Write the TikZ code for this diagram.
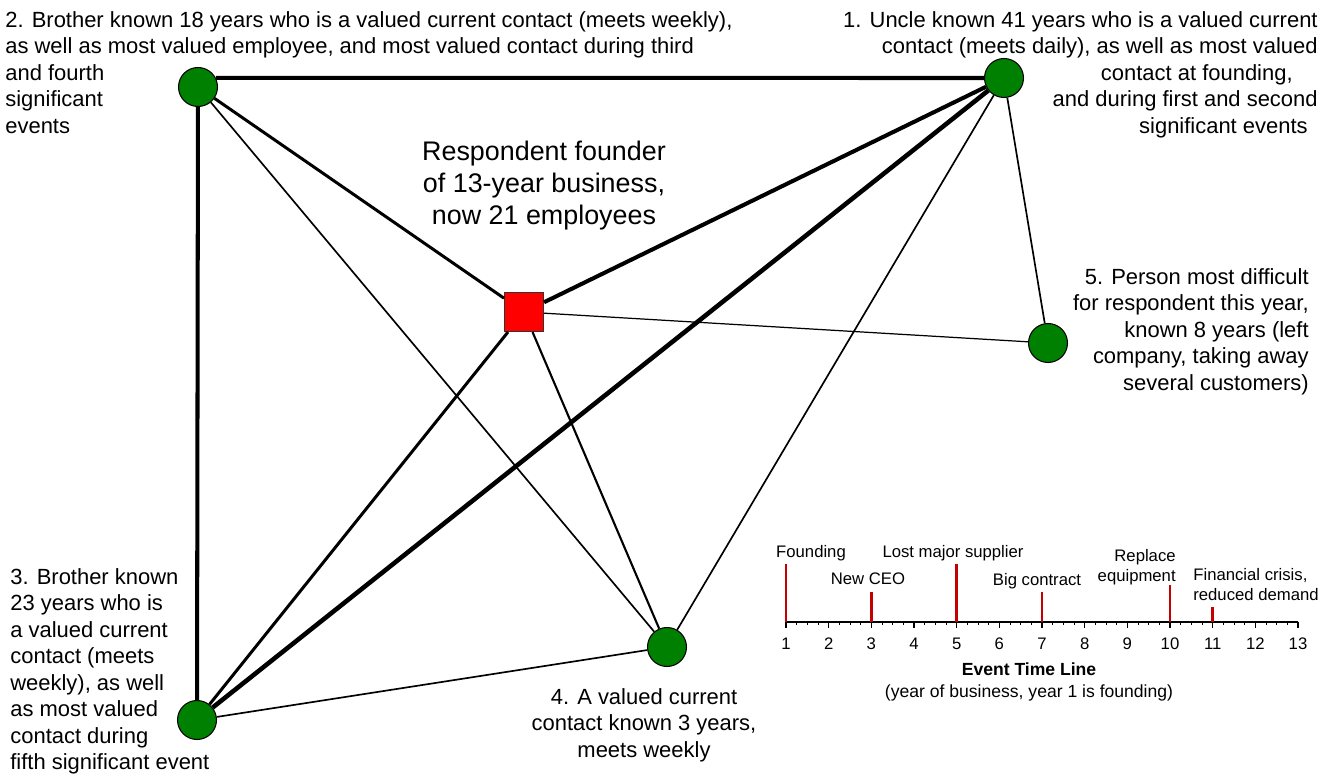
\documentclass[tikz,border=0pt]{standalone}
\usepackage{fontspec}
\setmainfont{Liberation Sans}
\usepackage{tikz}
\definecolor{tiegreen}{RGB}{0,128,0}
\definecolor{egored}{RGB}{255,0,0}
\definecolor{barred}{RGB}{196,0,0}

\begin{document}
\begin{tikzpicture}[x=0.02cm,y=-0.02cm,
  person/.style={circle,draw=black,line width=0.6pt,fill=tiegreen,minimum size=0.78cm,inner sep=0},
  ego/.style={rectangle,draw=black!80,line width=0.6pt,fill=egored,minimum size=0.78cm,inner sep=0},
  lbl/.style={inner sep=0,font=\fontsize{12.5}{15.1}\selectfont},
  tl/.style={inner sep=0,font=\fontsize{9.5}{11.3}\selectfont},
  eventbar/.style={barred,line width=1.6pt}]
\useasboundingbox (0,0) rectangle (1331,776);
\def\ax{786}
\def\ay{622}
\def\yr{42.667}
% network
\node[ego] (r) at (524,312) {};
\node[person] (p1) at (1004,78) {};
\node[person] (p2) at (198,87) {};
\node[person] (p3) at (197,720) {};
\node[person] (p4) at (667,647) {};
\node[person] (p5) at (1048,343) {};
\draw[line width=2.3pt] (p2.27) -- (p1.180);
\foreach \a/\b/\w in {p2/p3/2.3,p1/p3/2.6,p1/r/2.3,p2/r/1.7,r/p3/1.7,
  r/p4/1.2,p2/p4/0.95,p1/p4/0.95,p1/p5/0.95,p3/p4/0.95,r/p5/0.7}{
\draw[line width=\w pt] (\a) -- (\b);}
% labels
\node[lbl,anchor=north west,align=left] (l2) at (5,11) {2. Brother known 18 years who is a valued current contact (meets weekly),\\as well as most valued employee, and most valued contact during third\\and fourth\\significant\\events};
\node[lbl,anchor=north east,align=right] (l1) at (1318,11) {1. Uncle known 41 years who is a valued current\\contact (meets daily), as well as most valued\\contact at founding,\rule{0.5cm}{0pt}\\and during first and second\\significant events\rule{0.2cm}{0pt}};
\node[inner sep=0,anchor=north,align=center,font=\fontsize{15.3}{18.1}\selectfont] (rl) at (544,141) {Respondent founder\\of 13-year business,\\now 21 employees};
\node[lbl,anchor=north east,align=right] (l5) at (1309,268) {5. Person most difficult\\for respondent this year,\\known 8 years (left\\company, taking away\\several customers)};
\node[lbl,anchor=north west,align=left] (l3) at (10,568) {3. Brother known\\23 years who is\\a valued current\\contact (meets\\weekly), as well\\as most valued\\contact during\\fifth significant event};
\node[lbl,anchor=north,align=center] (l4) at (644,688) {4. A valued current\\contact known 3 years,\\meets weekly};
% time line
\draw[line width=1.1pt] (\ax,\ay) -- ({\ax+12*\yr},\ay);
\foreach \q in {1,...,47}{
\draw[line width=0.4pt] ({\ax+\q*\yr/4},\ay) -- ++(0,3);}
\foreach \n in {1,...,13}{
\draw[line width=0.6pt] ({\ax+(\n-1)*\yr},\ay) -- ++(0,6);
\node[tl,anchor=base] (y\n) at ({\ax+(\n-1)*\yr},649) {\n};}
\foreach \n/\h in {1/58,3/30,5/58,7/30,10/37,11/15}{
\draw[eventbar] ({\ax+(\n-1)*\yr},\ay) -- ++(0,-\h);}
\node[tl,anchor=base] (e1) at (811,557) {Founding};
\node[tl,anchor=base] (e3) at (868,584) {New CEO};
\node[tl,anchor=base] (e5) at (953,557) {Lost major supplier};
\node[tl,anchor=base] (e7) at (1037,585) {Big contract};
\node[tl,anchor=north east,align=right] (e10) at (1176,549) {Replace\\equipment};
\node[tl,anchor=north west,align=left] (e11) at (1193,568) {Financial crisis,\\reduced demand};
\node[inner sep=0,anchor=base,font=\fontsize{10}{12}\selectfont\bfseries] (tt) at (1029,675) {Event Time Line};
\node[inner sep=0,anchor=base,font=\fontsize{10}{12}\selectfont] (ts) at (1029,697) {(year of business, year 1 is founding)};
\end{tikzpicture}
\end{document}
